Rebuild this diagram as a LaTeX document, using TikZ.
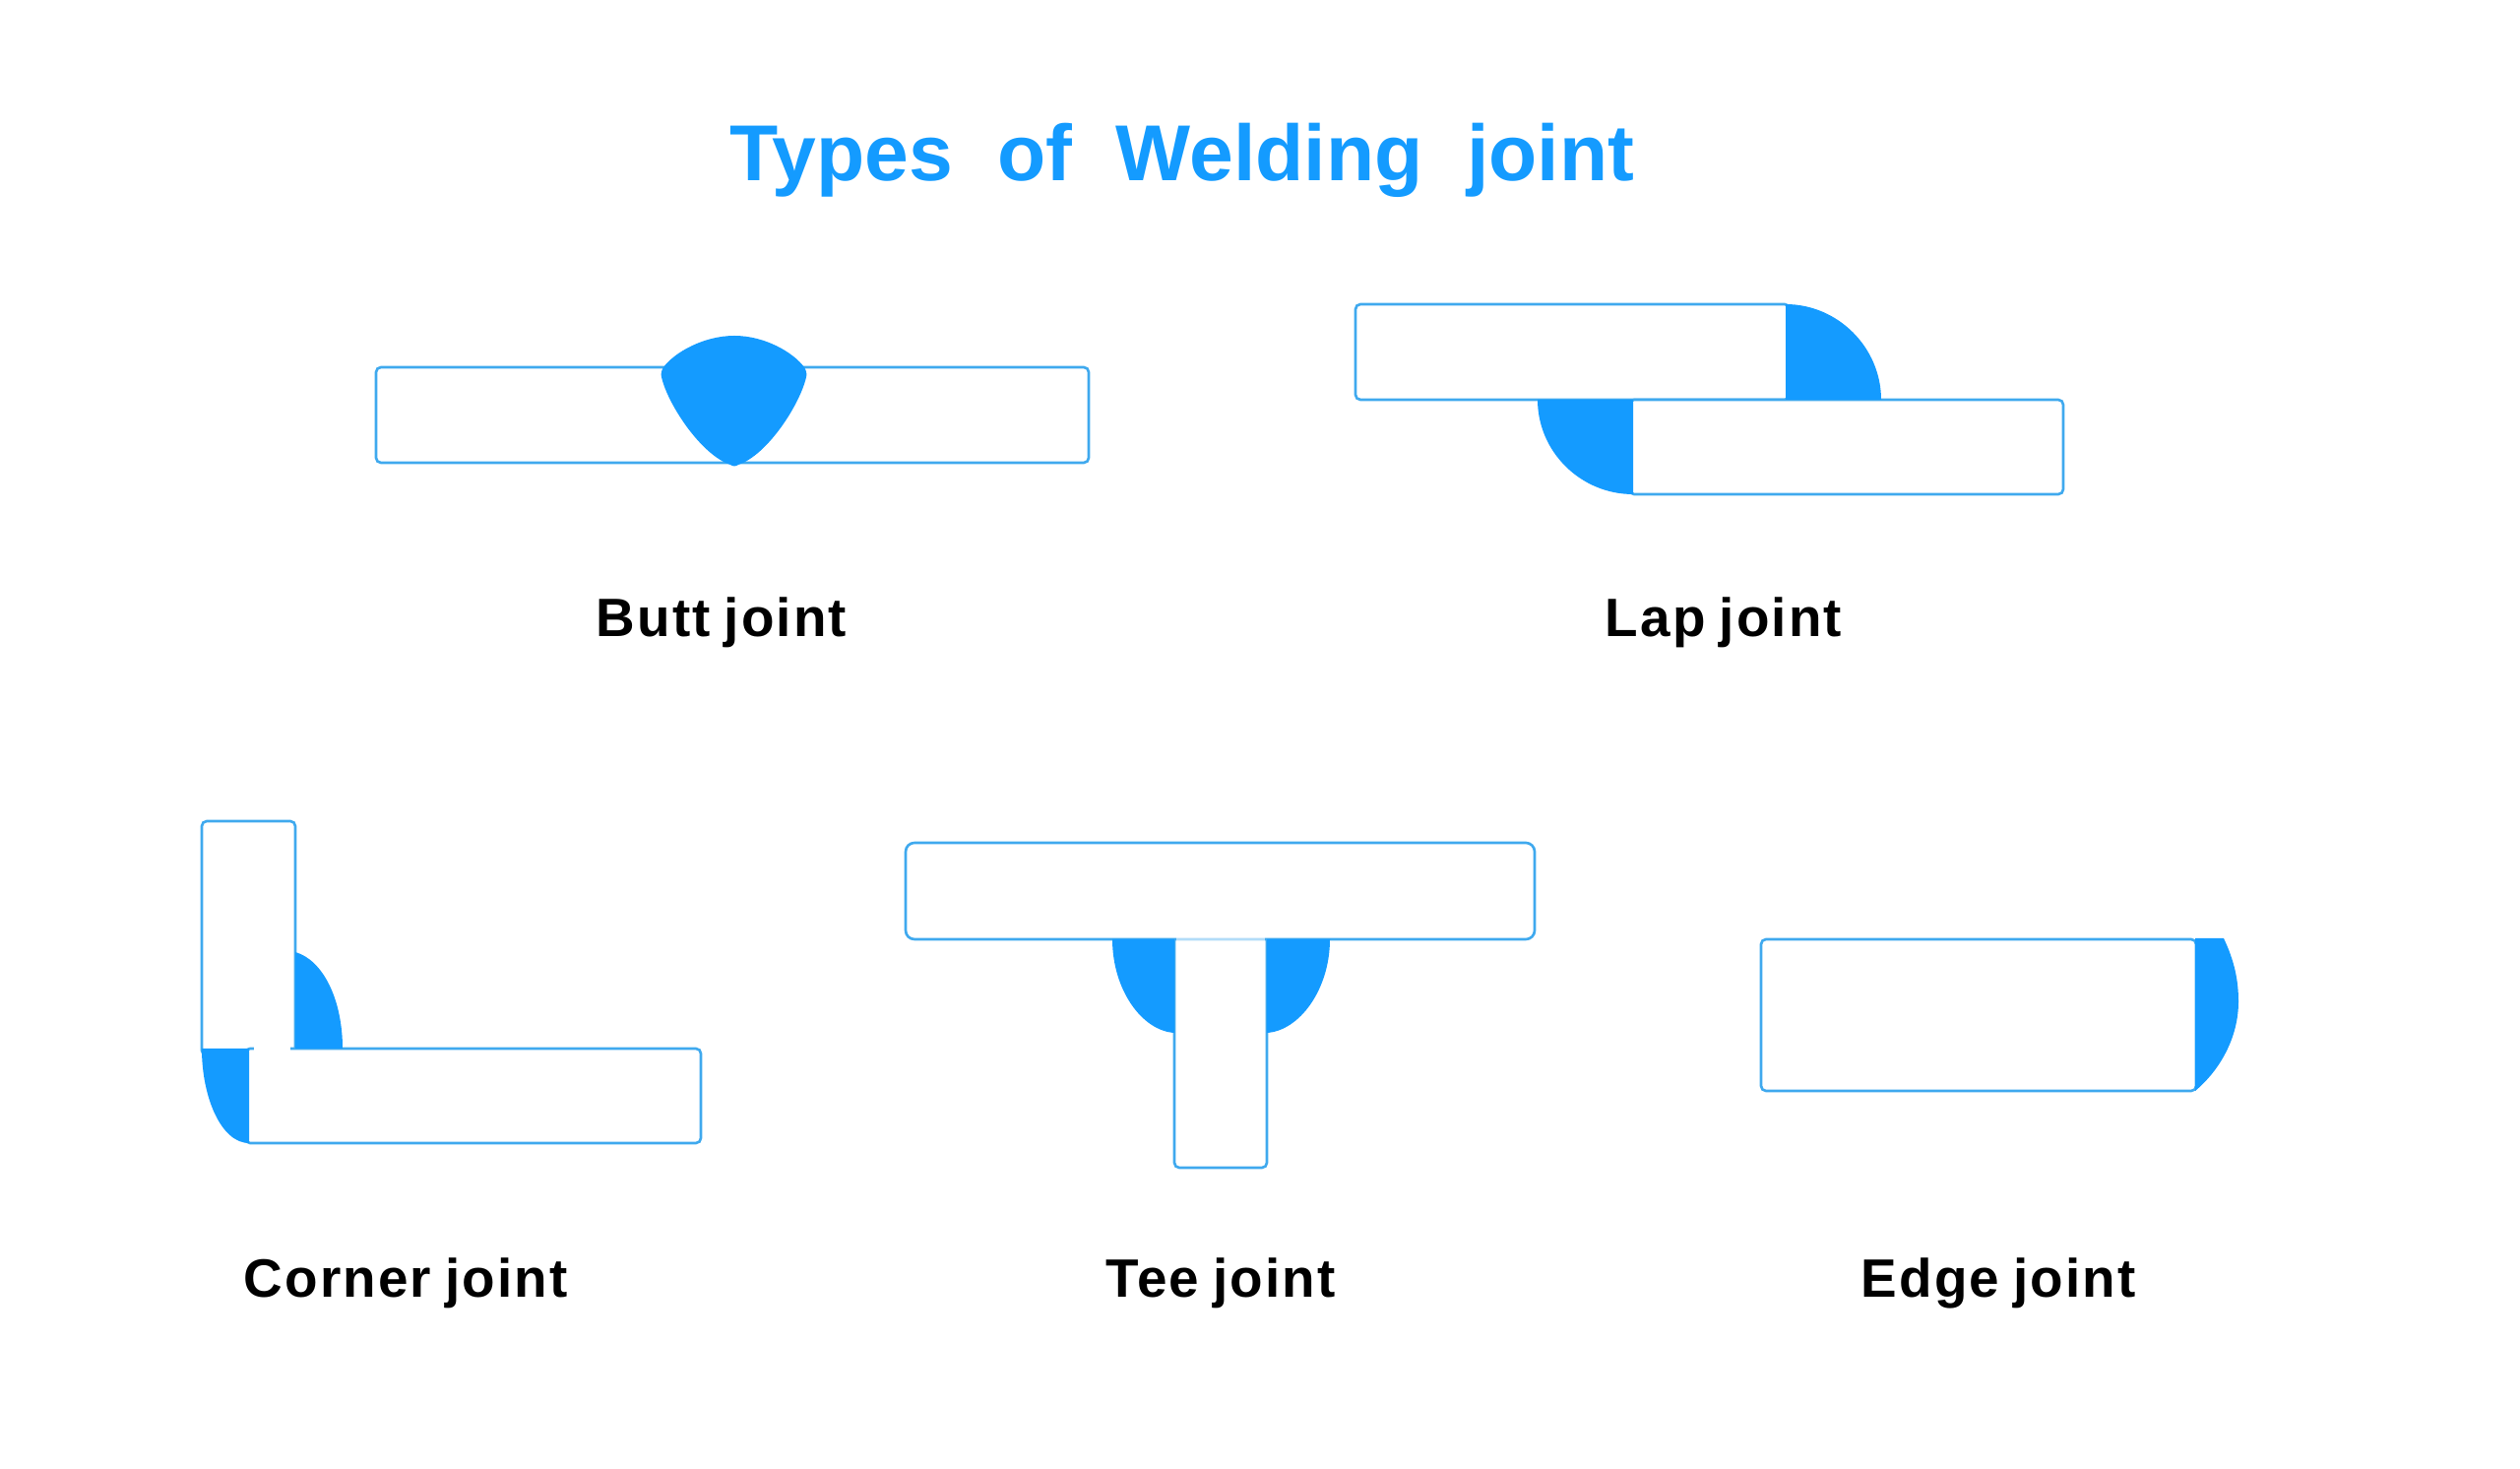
\documentclass[tikz,border=0pt]{standalone}
\usepackage{fontspec}
\setmainfont{Liberation Sans}
\newfontfamily\labelfont[LetterSpace=3.9,WordSpace=0.8]{Liberation Sans}
\definecolor{weldblue}{HTML}{149BFF}
\definecolor{plateblue}{HTML}{3FA9EE}
\begin{document}
\begin{tikzpicture}[x=0.01cm, y=-0.01cm,
    plate/.style={draw=plateblue, line width=0.75pt, fill=white, rounded corners=0.05cm},
    weld/.style={fill=weldblue, draw=none},
    title/.style={anchor=base, text=weldblue, font=\fontsize{22.9pt}{28pt}\bfseries},
    jointlabel/.style={anchor=base, text=black, font=\fontsize{15.6pt}{18pt}\labelfont\bfseries}]
  \useasboundingbox (0,0) rectangle (2560,1492);

  % Title
  \node[title] (heading) at (1201,184) {Types\ \ of\ \ Welding\ \ joint};

  % Butt joint
  \draw[plate] (382,373) rectangle (1106,470);
  \fill[weld] (746,341) .. controls (715,341) and (685,358) .. (674,373)
    .. controls (672,376) and (671,380) .. (672,383)
    .. controls (678,410) and (712,462) .. (742,472)
    .. controls (745,474) and (747,474) .. (750,472)
    .. controls (780,462) and (813,410) .. (819,383)
    .. controls (820,380) and (819,376) .. (817,373)
    .. controls (806,358) and (777,341) .. (746,341) -- cycle;
  \node[jointlabel] (butt) at (733,646.5) {Butt joint};

  % Lap joint
  \draw[plate] (1377,309) rectangle (1818,406);
  \draw[plate] (1655,406) rectangle (2096,502);
  \fill[weld] (1814,309) .. controls (1867,309) and (1911,353) .. (1911,406) -- (1814,406) -- cycle;
  \fill[weld] (1659,502) .. controls (1606,502) and (1562,459) .. (1562,406) -- (1659,406) -- cycle;
  \node[jointlabel] (lap) at (1751,646.5) {Lap joint};

  % Corner joint
  \draw[plate] (205,834) rectangle (300,1072);
  \draw[plate] (249,1065) rectangle (712,1161);
  \fill[white] (258,1062) rectangle (295,1068);
  \fill[weld] (300,967) .. controls (328,975) and (348,1015) .. (348,1065) -- (300,1065) -- cycle;
  \fill[weld] (253,1161) .. controls (225,1161) and (205,1115) .. (205,1065) -- (253,1065) -- cycle;
  \node[jointlabel] (corner) at (412,1317.5) {Corner joint};

  % Tee joint
  \draw[plate] (1193,945) rectangle (1287,1186);
  \draw[plate, rounded corners=0.09cm] (920,856) rectangle (1559,954);
  \fill[white, opacity=0.6] (1195,952) rectangle (1285,956);
  \fill[weld] (1130,954) .. controls (1130,1005) and (1160,1047) .. (1193,1049) -- (1193,954) -- cycle;
  \fill[weld] (1351,954) .. controls (1351,1005) and (1320,1047) .. (1287,1049) -- (1287,954) -- cycle;
  \node[jointlabel] (tee) at (1240,1317.5) {Tee joint};

  % Edge joint
  \draw[plate] (1789,954) rectangle (2231,1108);
  \fill[weld] (2230,953) -- (2259,953) .. controls (2267,970) and (2274,990) .. (2274,1017)
    .. controls (2274,1055) and (2254,1088) .. (2230,1108) -- cycle;
  \node[jointlabel] (edge) at (2030,1317.5) {Edge joint};
\end{tikzpicture}
\end{document}
